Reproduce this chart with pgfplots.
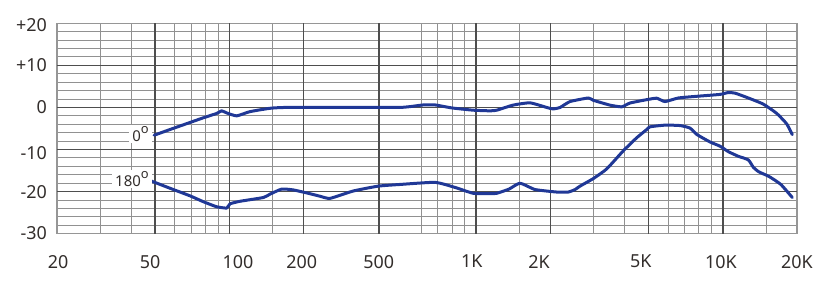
\documentclass[border=0pt]{standalone}
\usepackage{fontspec}
\setmainfont{Noto Sans}
\usepackage{pgfplots}
\pgfplotsset{compat=1.18}
\definecolor{curvecol}{RGB}{32,56,150}
\definecolor{majgrid}{RGB}{78,78,78}
\definecolor{mingrid}{RGB}{145,145,145}
\definecolor{framecol}{RGB}{150,150,150}
\definecolor{textcol}{RGB}{50,45,43}
\begin{document}
\begin{tikzpicture}
\begin{axis}[
  scale only axis, width=740bp, height=210.4bp,
  xmode=log, xmin=20, xmax=20000, ymin=-30, ymax=20,
  clip=false,
  axis line style={draw=framecol, line width=1.2bp},
  major tick length=0pt, minor tick length=0pt,
  xtick={20.19,47.66,108.3,196.4,403,960,1799,4652,9838,20000},
  xticklabels={20,50,100,200,500,1K,2K,5K,10K,20K},
  ytick={-29.8,-20,-10.9,0.2,10.1,19.6},
  yticklabels={-30,-20,-10,0,+10,+20},
  xmajorgrids=false, ymajorgrids=false,
  minor xtick={30,40,60,70,80,90,150,600,700,800,900,1500,3000,4000,6000,7000,8000,9000,15000},
  minor ytick={-28,-26,-24,-22,-18,-16,-14,-12,-8,-6,-4,-2,2,4,6,8,12,14,16,18},
  xminorgrids=true, yminorgrids=true,
  minor grid style={draw=mingrid, line width=1bp},
  extra x ticks={50,100,200,404,1000,2000,5000,10000},
  extra x tick labels={},
  extra x tick style={xmajorgrids=true, major grid style={draw=majgrid, line width=1.5bp}},
  extra y ticks={-20,-10,0,10},
  extra y tick labels={},
  extra y tick style={ymajorgrids=true, major grid style={draw=majgrid, line width=1.5bp}},
  tick label style={font=\fontsize{18}{18}\selectfont, text=textcol},
  xticklabel style={anchor=north, inner sep=0pt, yshift=-21.3bp},
  yticklabel style={anchor=east, inner sep=0pt, xshift=-10bp},
]
\addplot[curvecol, line width=3bp, line join=round, line cap=round, smooth, tension=0.3] coordinates {
(49.5,-6.6) (59,-5.0) (69,-3.6) (78,-2.5) (89,-1.4) (93,-0.8) (97.5,-1.3) (107,-2.0)
(121,-1.0) (146,-0.2) (168,0) (250,0) (400,0) (492,0) (540,0.2) (611,0.6) (682,0.6)
(736,0.25) (806,-0.15) (974,-0.65) (1139,-0.8) (1213,-0.65) (1411,0.55) (1654,1.1)
(1933,0.0) (2050,-0.35) (2190,0.0) (2403,1.4) (2850,2.25) (2987,1.7) (3491,0.55)
(3895,0.15) (4206,1.05) (4917,1.85) (5398,2.2) (5832,1.4) (6604,2.25) (7841,2.65)
(9745,3.1) (10530,3.55) (11210,3.4) (12500,2.4) (14590,0.8) (16540,-1.4) (18160,-3.9)
(19140,-6.45)
};
\addplot[curvecol, line width=3bp, line join=round, line cap=round, smooth, tension=0.3] coordinates {
(48.3,-17.5) (59.2,-19.5) (69.2,-21.0) (78.4,-22.4) (88.8,-23.6) (97.5,-23.9)
(100.6,-22.9) (110.4,-22.3) (137.3,-21.4) (146.1,-20.6) (162.9,-19.4) (181.6,-19.6)
(212.2,-20.5) (233,-21.1) (255.9,-21.6) (318,-19.85) (401,-18.7) (492,-18.3)
(682,-17.8) (821,-19.0) (974,-20.4) (1139,-20.5) (1213,-20.4) (1360,-19.4)
(1507,-18.0) (1733,-19.5) (2122,-20.1) (2365,-20.1) (2520,-19.5) (2637,-18.7)
(2987,-16.9) (3385,-14.6) (3953,-10.3) (4479,-7.2) (4917,-5.25) (5069,-4.6)
(5832,-4.2) (6710,-4.3) (7365,-4.9) (7841,-6.4) (8875,-8.2) (9745,-9.2)
(10530,-10.5) (11560,-11.6) (12690,-12.45) (13300,-14.2) (14000,-15.3)
(15400,-16.4) (17200,-18.3) (19140,-21.4)
};
\node[anchor=east, fill=white, inner xsep=3bp, inner ysep=1bp, text=textcol,
  font=\fontsize{15}{15}\selectfont] at (axis cs:48.5,-6.3)
  {0\raisebox{8bp}{\fontsize{13}{13}\selectfont o}};
\node[anchor=east, fill=white, inner xsep=3bp, inner ysep=1bp, text=textcol,
  font=\fontsize{15}{15}\selectfont] at (axis cs:48.5,-17.0)
  {180\raisebox{8bp}{\fontsize{13}{13}\selectfont o}};
\end{axis}
\path ([xshift=-57bp,yshift=-51.3bp]current axis.south west) rectangle ([xshift=32bp,yshift=23.3bp]current axis.north east);
\end{tikzpicture}
\end{document}
